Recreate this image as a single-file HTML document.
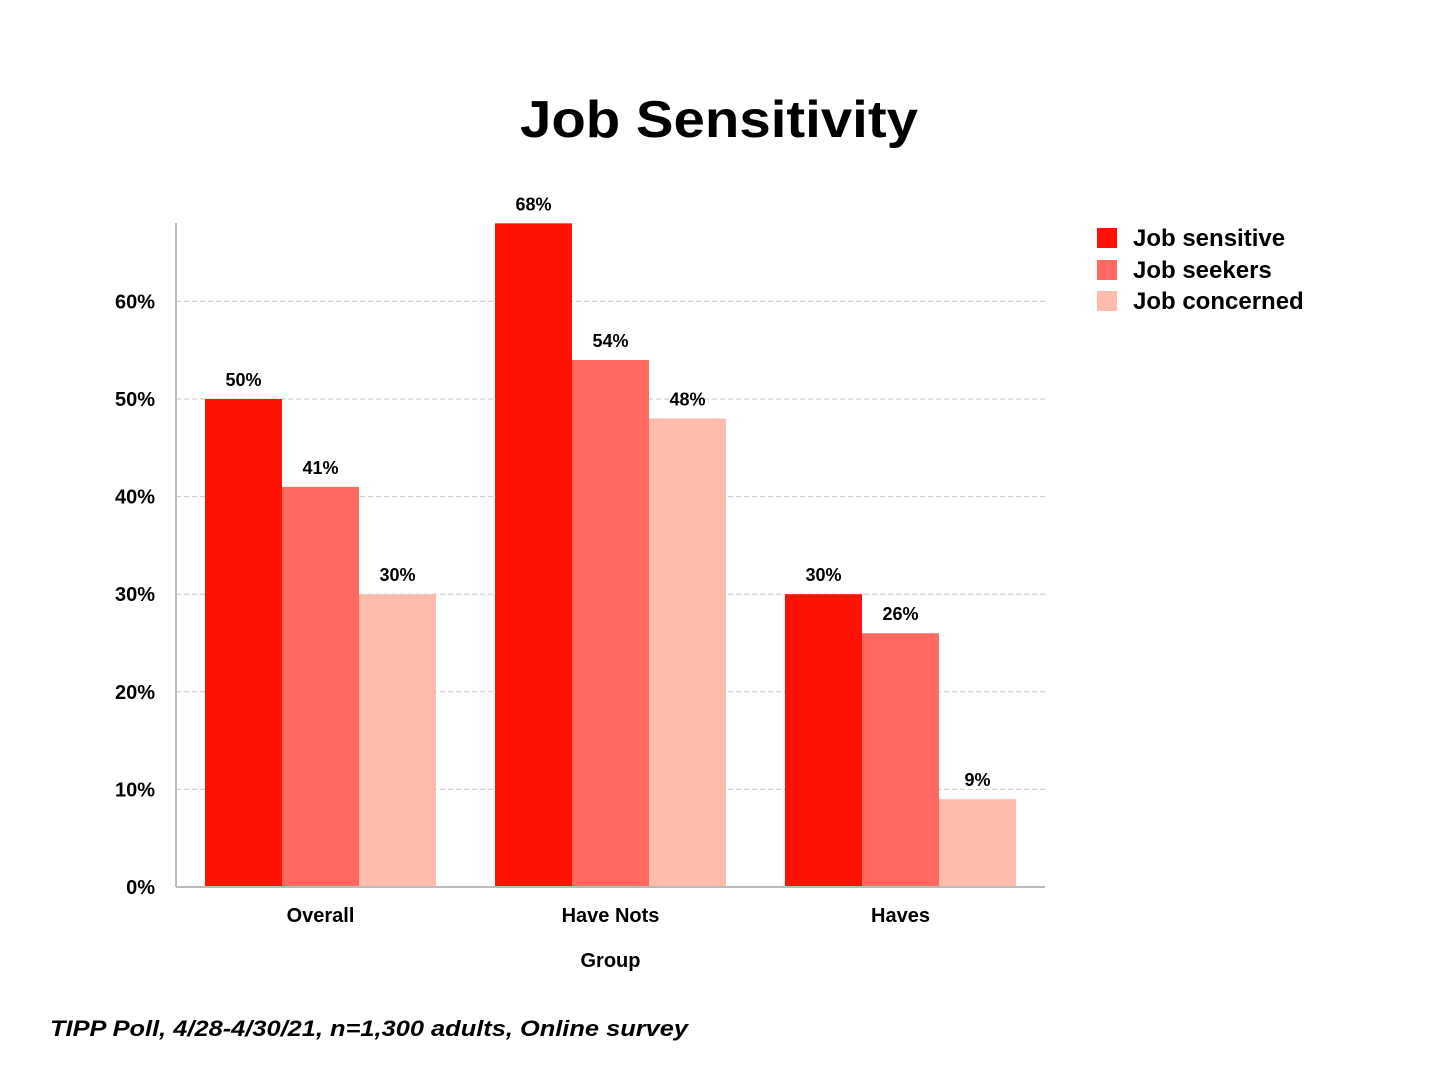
<!DOCTYPE html>
<html><head><meta charset="utf-8"><style>
body{margin:0;background:#fff;}
svg text{font-family:"Liberation Sans",sans-serif;}
</style></head><body>
<svg id="chart" width="1440" height="1080" xmlns="http://www.w3.org/2000/svg">
<rect width="1440" height="1080" fill="#fff"/>
<text x="520" y="137" textLength="398" lengthAdjust="spacingAndGlyphs" font-size="52" font-weight="bold" fill="#000">Job Sensitivity</text>
<g id="grid"></g><g id="bars"></g><g id="labels"></g>
<line x1="176" y1="223" x2="176" y2="887" stroke="#bbb" stroke-width="2"/>
<line x1="176" y1="887" x2="1045" y2="887" stroke="#bbb" stroke-width="2"/>
<text x="610.5" y="967" text-anchor="middle" font-size="20" font-weight="bold">Group</text>
<g>
<rect x="1097" y="228" width="20" height="20" fill="#ff1205"/>
<text x="1133" y="246" font-size="24" font-weight="bold">Job sensitive</text>
<rect x="1097" y="260" width="20" height="20" fill="#ff6961"/>
<text x="1133" y="278" font-size="24" font-weight="bold">Job seekers</text>
<rect x="1097" y="291" width="20" height="20" fill="#ffbcad"/>
<text x="1133" y="309" font-size="24" font-weight="bold">Job concerned</text>
</g>
<text x="50" y="1036" textLength="638" lengthAdjust="spacingAndGlyphs" font-size="22" font-style="italic" font-weight="bold">TIPP Poll, 4/28-4/30/21, n=1,300 adults, Online survey</text>
</svg>
<script>
const categories=["Overall","Have Nots","Haves"];
const jobSensitive=[50,68,30];
const jobSeekers=[41,54,26];
const jobConcerned=[30,48,9];
const yTicks=[0,10,20,30,40,50,60];
const seriesList=[jobSensitive,jobSeekers,jobConcerned];
const colors=["#ff1205","#ff6961","#ffbcad"];
const seriesNames=["job-sensitive","job-seekers","job-concerned"];
const NS="http://www.w3.org/2000/svg";
function y(v){return 887-v*9.76;}
function groupCenter(i){return 320.5+i*290;}
const bw=77;
function mk(tag,attrs,parent){const e=document.createElementNS(NS,tag);for(const k in attrs)e.setAttribute(k,attrs[k]);document.getElementById(parent).appendChild(e);return e;}
yTicks.forEach(t=>{
 if(t>0){const l=mk("line",{x1:176,x2:1045,y1:y(t),y2:y(t),stroke:"#c8c8c8","stroke-dasharray":"5,3"},"grid");
 
 }
 const tx=mk("text",{x:155,y:y(t)+7,"text-anchor":"end","font-size":20,"font-weight":"bold"},"grid");
 tx.textContent=t+"%";
 
 
});
categories.forEach((c,i)=>{
 const tx=mk("text",{x:groupCenter(i),y:922,"text-anchor":"middle","font-size":20,"font-weight":"bold"},"labels");
 tx.textContent=c;
 
 
 seriesList.forEach((s,j)=>{
  const x=groupCenter(i)-1.5*bw+j*bw;
  const r=mk("rect",{x:x,y:y(s[i]),width:bw,height:887-y(s[i]),fill:colors[j]},"bars");
  
  
  const v=mk("text",{x:x+bw/2,y:y(s[i])-13,"text-anchor":"middle","font-size":18,"font-weight":"bold"},"labels");
  v.textContent=s[i]+"%";
  
  
 });
});
</script>
</body></html>
